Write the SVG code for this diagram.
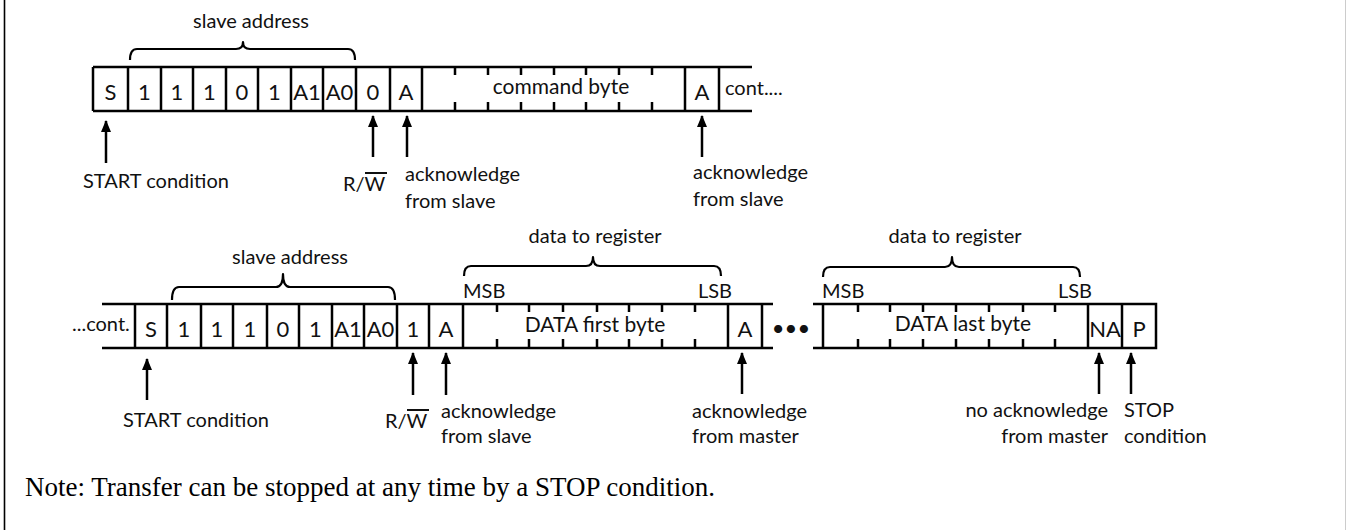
<svg xmlns="http://www.w3.org/2000/svg" width="1346" height="530" viewBox="0 0 1346 530">
<defs>
<style>
.ln{stroke:#000;stroke-width:2.5;fill:none}
.br{stroke:#000;stroke-width:2.2;fill:none;stroke-linejoin:round}
.ar{stroke:#000;stroke-width:2.5;fill:none}
.cell{font-family:Lato,"Liberation Sans",sans-serif;font-size:22px;fill:#111;text-anchor:middle}
.long{font-family:Lato,"Liberation Sans",sans-serif;font-size:21px;fill:#111;text-anchor:middle}
.lbl{font-family:Lato,"Liberation Sans",sans-serif;font-size:20px;fill:#111}
.note{font-family:"Liberation Serif","Times New Roman",serif;font-size:27px;fill:#000}
</style>
<marker id="ah" viewBox="0 0 12 10" refX="11" refY="5" markerWidth="12" markerHeight="10" markerUnits="userSpaceOnUse" orient="auto">
<path d="M0,0 L12,5 L0,10 Z" fill="#000"/>
</marker>
</defs>
<rect x="0" y="0" width="1346" height="530" fill="#fff"/>
<line x1="4.5" y1="0" x2="4.5" y2="530" stroke="#000" stroke-width="1.6"/>
<line x1="1345.5" y1="0" x2="1345.5" y2="530" stroke="#ccc" stroke-width="1"/>

<g id="frame-top">
<path class="ln" d="M93,67 H752 M93,111 H752 M93,67 V111 M128,67 V111 M161,67 V111 M193,67 V111 M226,67 V111 M258,67 V111 M291,67 V111 M323,67 V111 M356,67 V111 M390,67 V111 M422,67 V111 M685,67 V111 M719,67 V111"/>
<path class="ln" d="M455,67 v8 M488,67 v8 M521,67 v8 M554,67 v8 M586,67 v8 M619,67 v8 M652,67 v8 M455,111 v-9 M488,111 v-9 M521,111 v-9 M554,111 v-9 M586,111 v-9 M619,111 v-9 M652,111 v-9"/>
<text class="cell" x="110.5" y="100">S</text>
<text class="cell" x="144.5" y="100">1</text>
<text class="cell" x="177" y="100">1</text>
<text class="cell" x="209.5" y="100">1</text>
<text class="cell" x="242" y="100">0</text>
<text class="cell" x="274.5" y="100">1</text>
<text class="cell" x="307" y="100">A1</text>
<text class="cell" x="339.5" y="100">A0</text>
<text class="cell" x="373" y="100">0</text>
<text class="cell" x="406" y="100">A</text>
<text class="long" x="561" y="94">command byte</text>
<text class="cell" x="702" y="100">A</text>
<text class="lbl" x="725" y="95">cont....</text>
</g>

<g id="brace-top-address">
<path class="br" d="M130,60 Q130,49 137,49 H236 Q243,49 243,42 Q243,49 250,49 H348 Q355,49 355,60"/>
<text class="lbl" x="251" y="28" text-anchor="middle">slave address</text>
</g>

<g id="frame-bottom">
<path class="ln" d="M102,304 H773 M102,348 H773 M135,304 V348 M167,304 V348 M201,304 V348 M233,304 V348 M267,304 V348 M299,304 V348 M332,304 V348 M364,304 V348 M397,304 V348 M429,304 V348 M463,304 V348 M728,304 V348 M762,304 V348"/>
<path class="ln" d="M497,304 v8 M529,304 v8 M563,304 v8 M597,304 v8 M629,304 v8 M662,304 v8 M695,304 v8 M497,348 v-9 M529,348 v-9 M563,348 v-9 M597,348 v-9 M629,348 v-9 M662,348 v-9 M695,348 v-9"/>
<path class="ln" d="M813,304 H1156 M813,348 H1156 M823,304 V348 M1088,304 V348 M1122,304 V348 M1156,302.75 V349.25"/>
<path class="ln" d="M858,304 v8 M890,304 v8 M923,304 v8 M956,304 v8 M989,304 v8 M1023,304 v8 M1055,304 v8 M858,348 v-9 M890,348 v-9 M923,348 v-9 M956,348 v-9 M989,348 v-9 M1023,348 v-9 M1055,348 v-9"/>
<text class="lbl" x="72" y="331">...cont.</text>
<text class="cell" x="151" y="337">S</text>
<text class="cell" x="184" y="337">1</text>
<text class="cell" x="217" y="337">1</text>
<text class="cell" x="250" y="337">1</text>
<text class="cell" x="283" y="337">0</text>
<text class="cell" x="315.5" y="337">1</text>
<text class="cell" x="348" y="337">A1</text>
<text class="cell" x="380.5" y="337">A0</text>
<text class="cell" x="413" y="337">1</text>
<text class="cell" x="446" y="337">A</text>
<text class="long" x="595" y="332">DATA  first byte</text>
<text class="cell" x="745" y="337">A</text>
<text class="cell" x="791" y="336">•••</text>
<text class="long" x="963" y="331">DATA last byte</text>
<text class="cell" x="1105" y="337">NA</text>
<text class="cell" x="1139" y="337">P</text>
<text class="lbl" x="463" y="298">MSB</text>
<text class="lbl" x="698" y="298">LSB</text>
<text class="lbl" x="822" y="298">MSB</text>
<text class="lbl" x="1058" y="298">LSB</text>
</g>

<g id="brace-bottom-address">
<path class="br" d="M172,300 Q172,287 179,287 H276 Q283,287 283,274 Q283,287 290,287 H388 Q395,287 395,300"/>
<text class="lbl" x="290" y="264" text-anchor="middle">slave address</text>
</g>
<g id="brace-data-first">
<path class="br" d="M464,276 Q464,266 471,266 H586 Q593,266 593,257 Q593,266 600,266 H714 Q721,266 721,276"/>
<text class="lbl" x="595" y="243" text-anchor="middle">data to register</text>
</g>
<g id="brace-data-last">
<path class="br" d="M823,277 Q823,267 830,267 H945 Q952,267 952,257 Q952,267 959,267 H1073 Q1080,267 1080,277"/>
<text class="lbl" x="955" y="243" text-anchor="middle">data to register</text>
</g>

<g id="connectors">
<line class="ar" x1="106" y1="163" x2="106" y2="121" marker-end="url(#ah)"/>
<line class="ar" x1="373" y1="157" x2="373" y2="116" marker-end="url(#ah)"/>
<line class="ar" x1="407" y1="157" x2="407" y2="116" marker-end="url(#ah)"/>
<line class="ar" x1="702" y1="157" x2="702" y2="116" marker-end="url(#ah)"/>
<line class="ar" x1="147" y1="400" x2="147" y2="359" marker-end="url(#ah)"/>
<line class="ar" x1="413" y1="395" x2="413" y2="353" marker-end="url(#ah)"/>
<line class="ar" x1="446" y1="395" x2="446" y2="353" marker-end="url(#ah)"/>
<line class="ar" x1="742" y1="394" x2="742" y2="353" marker-end="url(#ah)"/>
<line class="ar" x1="1099" y1="394" x2="1099" y2="353" marker-end="url(#ah)"/>
<line class="ar" x1="1131" y1="394" x2="1131" y2="353" marker-end="url(#ah)"/>
</g>

<g id="labels-top">
<text class="lbl" x="83" y="188">START condition</text>
<text class="lbl" x="343" y="191">R/W</text>
<line x1="365" y1="173" x2="387" y2="173" stroke="#111" stroke-width="2"/>
<text class="lbl" x="405" y="181">acknowledge</text>
<text class="lbl" x="405" y="208">from slave</text>
<text class="lbl" x="693" y="179">acknowledge</text>
<text class="lbl" x="693" y="206">from slave</text>
</g>

<g id="labels-bottom">
<text class="lbl" x="123" y="427">START condition</text>
<text class="lbl" x="385" y="428">R/W</text>
<line x1="407" y1="410" x2="429" y2="410" stroke="#111" stroke-width="2"/>
<text class="lbl" x="441" y="418">acknowledge</text>
<text class="lbl" x="441" y="443">from slave</text>
<text class="lbl" x="692" y="418">acknowledge</text>
<text class="lbl" x="692" y="443">from master</text>
<text class="lbl" x="1108" y="417" text-anchor="end">no acknowledge</text>
<text class="lbl" x="1108" y="443" text-anchor="end">from master</text>
<text class="lbl" x="1124" y="417">STOP</text>
<text class="lbl" x="1124" y="443">condition</text>
</g>

<text class="note" x="25" y="496">Note: Transfer can be stopped at any time by a STOP condition.</text>
</svg>
